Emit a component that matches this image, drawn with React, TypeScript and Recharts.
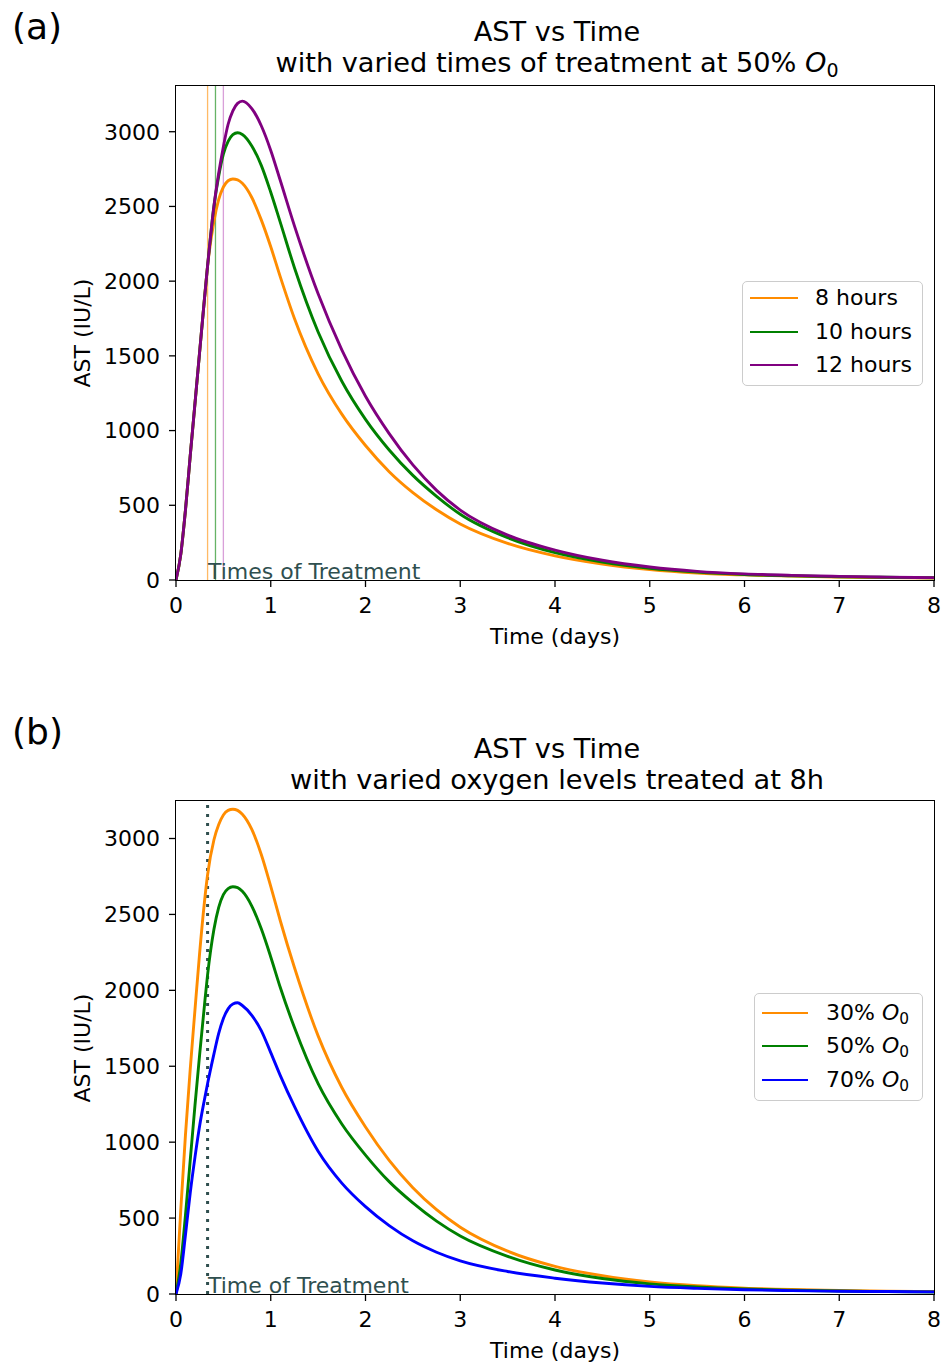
import React from "react"
import { LineChart, Line, XAxis, YAxis, ReferenceLine } from "recharts"

const FONT = '"DejaVu Sans", "Noto Sans", sans-serif'

// time grid in days, shared by every curve
const timeDays = [0, 0.05, 0.1, 0.15, 0.2, 0.25, 0.3, 0.333, 0.4, 0.45, 0.5, 0.55, 0.6, 0.65, 0.7, 0.8, 0.9, 1.0, 1.1, 1.25, 1.5, 1.75, 2, 2.25, 2.5, 2.75, 3, 3.5, 4, 4.5, 5, 5.5, 6, 6.5, 7, 7.5, 8]

// (a) treatment time at 50% O0
const ast8h = [0, 170, 470, 830, 1180, 1530, 1880, 2100, 2400, 2545, 2630, 2672, 2684, 2678, 2655, 2560, 2410, 2230, 2030, 1750, 1380, 1110, 900, 725, 585, 470, 375, 245, 162, 107, 70, 47, 34, 26, 20, 16, 13]
const ast10h = [0, 170, 470, 830, 1180, 1530, 1880, 2100, 2500, 2700, 2850, 2935, 2980, 2993, 2982, 2905, 2775, 2595, 2395, 2090, 1660, 1330, 1075, 870, 700, 560, 440, 283, 183, 120, 78, 53, 37, 28, 22, 18, 15]
const ast12h = [0, 170, 470, 830, 1180, 1530, 1880, 2100, 2500, 2720, 2900, 3050, 3140, 3190, 3205, 3155, 3040, 2875, 2675, 2370, 1915, 1540, 1230, 980, 770, 600, 468, 300, 200, 132, 87, 58, 41, 31, 24, 19, 16]
const treatTimes = [8 / 24, 10 / 24, 12 / 24]

// (b) oxygen level, treated at 8h
const astO30 = [0, 550, 1050, 1480, 1870, 2250, 2580, 2760, 2990, 3090, 3155, 3185, 3193, 3185, 3160, 3060, 2895, 2685, 2460, 2150, 1700, 1360, 1100, 880, 700, 555, 440, 282, 182, 120, 79, 54, 39, 30, 24, 19, 16]
const astO50 = [0, 200, 520, 880, 1240, 1580, 1900, 2100, 2400, 2545, 2630, 2670, 2682, 2676, 2652, 2555, 2405, 2220, 2020, 1755, 1385, 1120, 915, 740, 600, 480, 382, 248, 158, 102, 67, 46, 33, 25, 20, 16, 13]
const astO70 = [0, 130, 390, 665, 900, 1110, 1280, 1385, 1580, 1715, 1815, 1878, 1910, 1918, 1900, 1835, 1735, 1590, 1440, 1235, 940, 730, 575, 450, 350, 275, 218, 148, 104, 72, 50, 37, 28, 22, 18, 16, 14]

const xTicks = [0, 1, 2, 3, 4, 5, 6, 7, 8]
const yTicks = [0, 500, 1000, 1500, 2000, 2500, 3000]

const C = {
  orange: "#ff8c00",
  green:  "#008000",
  purple: "#800080",
  blue:   "#0000ff",
  slate:  "#2f4f4f",
}

const Sub0 = () => <sub style={{ fontSize: "0.7em", verticalAlign: "-0.25em" }}>0</sub>
const O0 = (pct: string) => <span>{pct}% <i>O</i><Sub0 /></span>

type S = { key: string; label: React.ReactNode; color: string; values: number[] }

const W = 949
const PLOT_L = 176
const PLOT_R = 934
const Y_W = 60
const X_H = 30

function Panel(props: {
  top: number
  height: number
  plotTop: number
  plotBottom: number
  yMax: number
  tag: string
  tagTop: number
  titleTop: number
  title2: React.ReactNode
  series: S[]
  legend: { left: number; top: number; width: number; height: number; lineX: number; lineW: number; textX: number; rows: number[] }
  refLines: React.ReactNode
  note: string
}) {
  const { top, height, plotTop, plotBottom, yMax, tag, tagTop, titleTop, title2, series, legend, refLines, note } = props
  const data = timeDays.map((t, i) => {
    const row: Record<string, number> = { t }
    for (const s of series) row[s.key] = s.values[i]
    return row
  })
  const tick = { fill: "#000", fontSize: 22, fontFamily: FONT }
  const midX = (PLOT_L + PLOT_R) / 2
  const midY = (plotTop + plotBottom) / 2

  return (
    <div style={{ position: "absolute", left: 0, top, width: W, height, fontFamily: FONT, color: "#000" }}>
      <LineChart
        width={W}
        height={height}
        data={data}
        margin={{ top: plotTop, right: W - PLOT_R, bottom: height - plotBottom - X_H, left: PLOT_L - Y_W }}
      >
        <XAxis
          dataKey="t"
          type="number"
          domain={[0, 8]}
          ticks={xTicks}
          height={X_H}
          tick={tick}
          tickSize={7}
          tickMargin={10}
          axisLine={false}
          tickLine={{ stroke: "#000", strokeWidth: 1.3 }}
          allowDataOverflow
        />
        <YAxis
          type="number"
          domain={[0, yMax]}
          ticks={yTicks}
          width={Y_W}
          tick={tick}
          tickSize={7}
          tickMargin={9}
          axisLine={false}
          tickLine={{ stroke: "#000", strokeWidth: 1.3 }}
          allowDataOverflow
        />
        {refLines}
        {series.map(s => (
          <Line key={s.key} type="monotone" dataKey={s.key} stroke={s.color} strokeWidth={2.9} dot={false} isAnimationActive={false} />
        ))}
      </LineChart>

      {/* frame */}
      <div style={{ position: "absolute", left: PLOT_L - 0.65, top: plotTop - 0.65, width: PLOT_R - PLOT_L, height: plotBottom - plotTop, border: "1.3px solid #000", pointerEvents: "none" }} />

      {/* panel tag + title */}
      <div style={{ position: "absolute", left: 12, top: tagTop, fontSize: 36, lineHeight: 1 }}>{tag}</div>
      <div style={{ position: "absolute", left: midX + 2 - 350, width: 700, top: titleTop, fontSize: 27.2, lineHeight: "31px", textAlign: "center" }}>
        <div>AST vs Time</div>
        <div>{title2}</div>
      </div>

      {/* axis labels */}
      <div style={{ position: "absolute", left: midX - 150, width: 300, top: plotBottom + 45.5, fontSize: 22, lineHeight: 1, textAlign: "center" }}>Time (days)</div>
      <div style={{ position: "absolute", left: 83 - 100, width: 200, top: midY - 11, fontSize: 22, lineHeight: "22px", textAlign: "center", transform: "rotate(-90deg)" }}>AST (IU/L)</div>

      {/* treatment note */}
      <div style={{ position: "absolute", left: 208, top: plotBottom - 18.6, fontSize: 22, lineHeight: 1, color: C.slate, whiteSpace: "nowrap" }}>{note}</div>

      {/* legend */}
      <div style={{ position: "absolute", left: legend.left, top: legend.top, width: legend.width, height: legend.height, border: "1.3px solid #cccccc", borderRadius: 5, background: "rgba(255,255,255,0.8)", boxSizing: "border-box" }} />
      {series.map((s, i) => (
        <React.Fragment key={s.key}>
          <div style={{ position: "absolute", left: legend.lineX, top: legend.rows[i] - 1.45, width: legend.lineW, height: 2.9, background: s.color }} />
          <div style={{ position: "absolute", left: legend.textX, top: legend.rows[i] - 11, fontSize: 22, lineHeight: "22px", whiteSpace: "nowrap" }}>{s.label}</div>
        </React.Fragment>
      ))}
    </div>
  )
}

export default function App() {
  const panelA: S[] = [
    { key: "h8", label: "8 hours", color: C.orange, values: ast8h },
    { key: "h10", label: "10 hours", color: C.green, values: ast10h },
    { key: "h12", label: "12 hours", color: C.purple, values: ast12h },
  ]
  const panelB: S[] = [
    { key: "o30", label: O0("30"), color: C.orange, values: astO30 },
    { key: "o50", label: O0("50"), color: C.green, values: astO50 },
    { key: "o70", label: O0("70"), color: C.blue, values: astO70 },
  ]
  const refColors = [C.orange, C.green, "#c060c0"]

  return (
    <div style={{ position: "absolute", left: 0, top: 0, width: W, height: 1363, background: "#fff", overflow: "hidden" }}>
      <Panel
        top={0}
        height={700}
        plotTop={86}
        plotBottom={580}
        yMax={3306}
        tag="(a)"
        tagTop={9}
        titleTop={15.5}
        title2={<span>with varied times of treatment at 50% <i>O</i><Sub0 /></span>}
        series={panelA}
        legend={{ left: 742, top: 281, width: 181, height: 105, lineX: 750, lineW: 48, textX: 815, rows: [298, 332, 365] }}
        refLines={treatTimes.map((t, i) => (
          <ReferenceLine key={i} x={t} stroke={refColors[i]} strokeOpacity={0.6} strokeWidth={1.3} />
        ))}
        note="Times of Treatment"
      />
      <Panel
        top={714}
        height={649}
        plotTop={87}
        plotBottom={580}
        yMax={3247}
        tag="(b)"
        tagTop={0}
        titleTop={18.5}
        title2="with varied oxygen levels treated at 8h"
        series={panelB}
        legend={{ left: 754, top: 279, width: 169, height: 108, lineX: 762, lineW: 46, textX: 826, rows: [299, 332, 366] }}
        refLines={<ReferenceLine x={8 / 24} stroke={C.slate} strokeWidth={3} strokeDasharray="3 6" />}
        note="Time of Treatment"
      />
    </div>
  )
}
